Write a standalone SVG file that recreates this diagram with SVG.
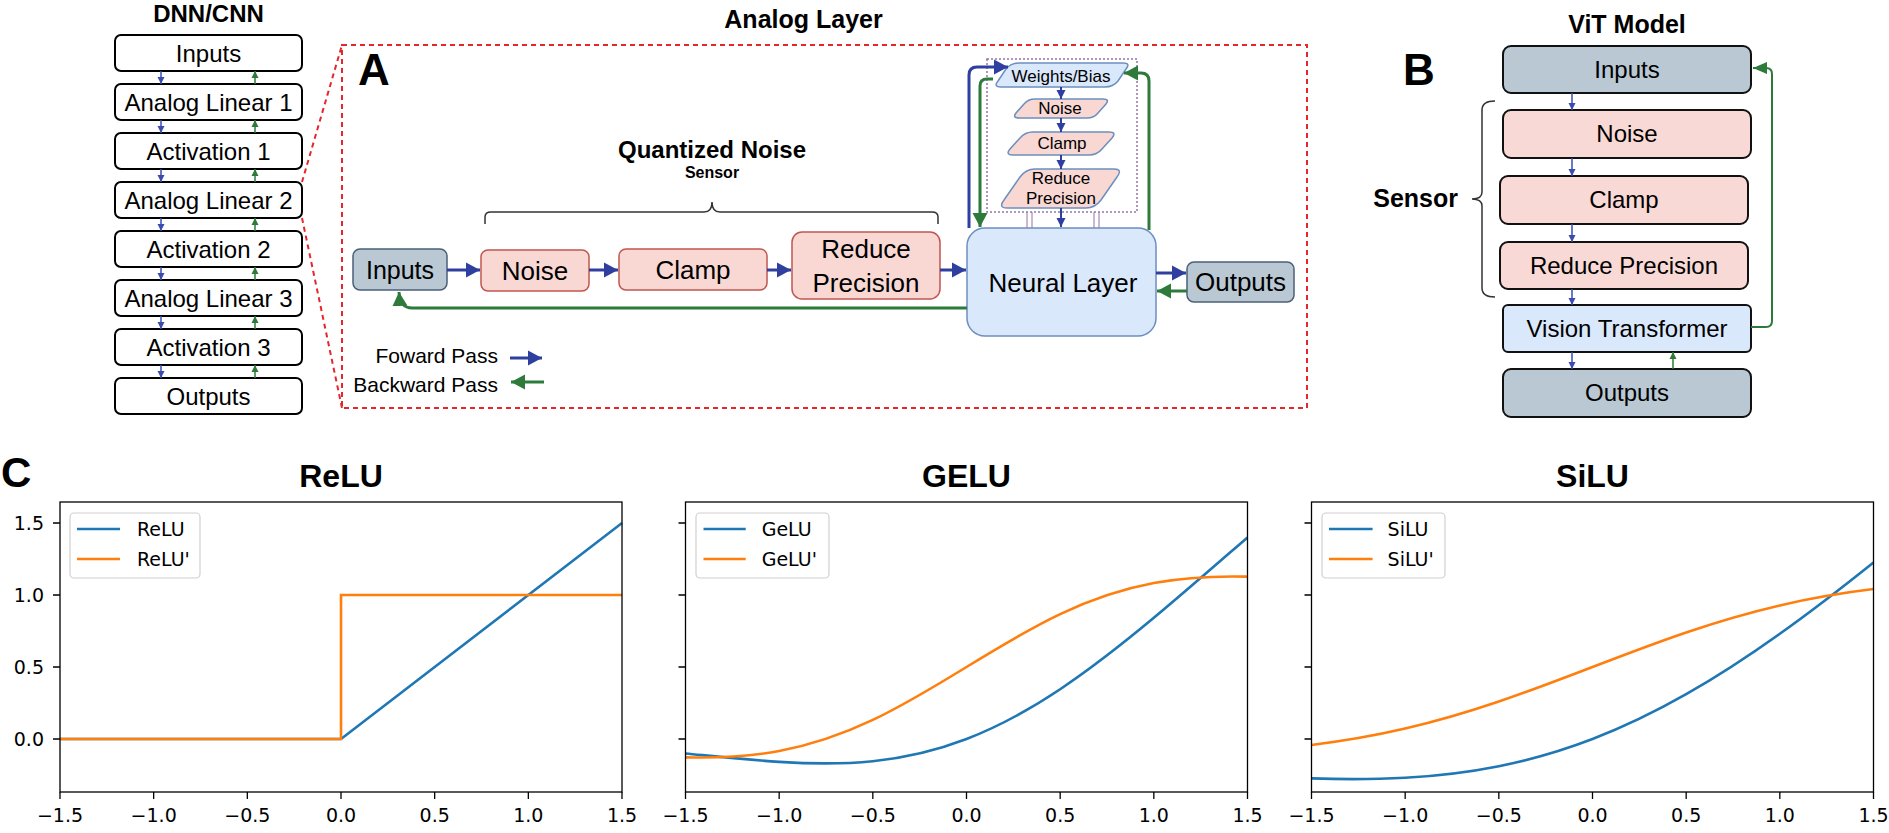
<svg xmlns="http://www.w3.org/2000/svg" width="1889" height="833" viewBox="0 0 1889 833">
<style>
.t{font-family:"Liberation Sans",Arial,Helvetica,sans-serif;fill:#000}
.b{font-weight:bold}
.c{text-anchor:middle}
.e{text-anchor:end}
.m{font-family:"DejaVu Sans",sans-serif;font-size:19px;fill:#000}
.dbox{fill:#fff;stroke:#000;stroke-width:2}
.grey{fill:#b9c8d3;stroke:#4a6078;stroke-width:1.5}
.pink{fill:#f9d8d4;stroke:#c0564f;stroke-width:1.5}
.blu{fill:#dae8fc;stroke:#6c8ebf;stroke-width:1.5}
.pstk{fill:#f9d8d4;stroke:#6c8ebf;stroke-width:1.5}
.bg{fill:#b9c8d3;stroke:#111;stroke-width:2}
.bp{fill:#f9d9d5;stroke:#111;stroke-width:2}
.bb{fill:#dae8fc;stroke:#111;stroke-width:2}
.fb{fill:none;stroke:#2e3f9f;stroke-width:3}
.fg{fill:none;stroke:#2d7a3a;stroke-width:3}
.sb{fill:none;stroke:#3a4cb0;stroke-width:1.5}
.sg{fill:none;stroke:#2d7a3a;stroke-width:1.5}
.wb{fill:none;stroke:#2e3f9f;stroke-width:2}
.red{fill:none;stroke:#e5262a;stroke-width:2;stroke-dasharray:5 4}
.brace{fill:none;stroke:#333;stroke-width:1.5}
.ax{fill:none;stroke:#000;stroke-width:1.3}
.tk{stroke:#000;stroke-width:1.3}
.lb{fill:none;stroke:#1f77b4;stroke-width:2.6}
.lo{fill:none;stroke:#ff7f0e;stroke-width:2.6}
.leg{fill:#fff;fill-opacity:0.8;stroke:#d0d0d0;stroke-width:1.2}
</style>
<defs>
<marker id="ab" markerUnits="userSpaceOnUse" markerWidth="15" markerHeight="16" refX="14" refY="8" orient="auto"><path d="M0,0.5 L14,8 L0,15.5 z" fill="#2e3f9f"/></marker>
<marker id="ag" markerUnits="userSpaceOnUse" markerWidth="15" markerHeight="16" refX="14" refY="8" orient="auto"><path d="M0,0.5 L14,8 L0,15.5 z" fill="#2d7a3a"/></marker>
<marker id="mb" markerUnits="userSpaceOnUse" markerWidth="10" markerHeight="10" refX="9" refY="5" orient="auto"><path d="M0,0.5 L9,5 L0,9.5 z" fill="#2e3f9f"/></marker>
<marker id="mg" markerUnits="userSpaceOnUse" markerWidth="15" markerHeight="13" refX="14" refY="6.5" orient="auto"><path d="M0,0.5 L14,6.5 L0,12.5 z" fill="#2d7a3a"/></marker>
<marker id="sbm" markerUnits="userSpaceOnUse" markerWidth="8" markerHeight="8" refX="7" refY="4" orient="auto"><path d="M0,0.5 L7,4 L0,7.5 z" fill="#3a4cb0"/></marker>
<marker id="sgm" markerUnits="userSpaceOnUse" markerWidth="8" markerHeight="8" refX="7" refY="4" orient="auto"><path d="M0,0.5 L7,4 L0,7.5 z" fill="#2d7a3a"/></marker>
</defs>
<rect width="1889" height="833" fill="#fff"/>

<!-- Titles and panel labels -->
<text x="208.5" y="22" class="t b c" font-size="24">DNN/CNN</text>
<text x="803.5" y="28" class="t b c" font-size="25">Analog Layer</text>
<text x="1627" y="33" class="t b c" font-size="25">ViT Model</text>
<text x="358" y="85" class="t b" font-size="44">A</text>
<text x="1403" y="85" class="t b" font-size="44">B</text>
<text x="1" y="487" class="t b" font-size="42">C</text>

<!-- DNN/CNN stack -->
<g id="dnn-inputs"><rect class="dbox" x="115" y="35" width="187" height="36" rx="6"/><text x="208.5" y="61.5" class="t c" font-size="24">Inputs</text></g>
<g id="dnn-linear1"><rect class="dbox" x="115" y="84" width="187" height="36" rx="6"/><text x="208.5" y="110.5" class="t c" font-size="24">Analog Linear 1</text></g>
<g id="dnn-act1"><rect class="dbox" x="115" y="133" width="187" height="36" rx="6"/><text x="208.5" y="159.5" class="t c" font-size="24">Activation 1</text></g>
<g id="dnn-linear2"><rect class="dbox" x="115" y="182" width="187" height="36" rx="6"/><text x="208.5" y="208.5" class="t c" font-size="24">Analog Linear 2</text></g>
<g id="dnn-act2"><rect class="dbox" x="115" y="231" width="187" height="36" rx="6"/><text x="208.5" y="257.5" class="t c" font-size="24">Activation 2</text></g>
<g id="dnn-linear3"><rect class="dbox" x="115" y="280" width="187" height="36" rx="6"/><text x="208.5" y="306.5" class="t c" font-size="24">Analog Linear 3</text></g>
<g id="dnn-act3"><rect class="dbox" x="115" y="329" width="187" height="36" rx="6"/><text x="208.5" y="355.5" class="t c" font-size="24">Activation 3</text></g>
<g id="dnn-outputs"><rect class="dbox" x="115" y="378" width="187" height="36" rx="6"/><text x="208.5" y="404.5" class="t c" font-size="24">Outputs</text></g>

<!-- Analog layer zoom box -->
<g id="analog-frame">
<rect class="red" x="342" y="45" width="965" height="363"/>
<path class="red" d="M302,182 L342,45 M302,218 L342,408"/>
</g>

<!-- Panel A nodes -->
<g id="a-inputs"><rect class="grey" x="353" y="249" width="94" height="41" rx="7"/><text x="400" y="279" class="t c" font-size="25">Inputs</text></g>
<g id="a-noise"><rect class="pink" x="481" y="250" width="108" height="41" rx="7"/><text x="535" y="280" class="t c" font-size="26">Noise</text></g>
<g id="a-clamp"><rect class="pink" x="619" y="249" width="148" height="41" rx="7"/><text x="693" y="279" class="t c" font-size="26">Clamp</text></g>
<g id="a-reduce"><rect class="pink" x="792" y="232" width="148" height="67" rx="10"/><text x="866" y="258" class="t c" font-size="26">Reduce</text><text x="866" y="292" class="t c" font-size="26">Precision</text></g>
<g id="a-brace"><path class="brace" d="M485,224 L485,217 Q485,212 491,212 L704,212 Q712,212 712,202 Q712,212 720,212 L932,212 Q938,212 938,217 L938,224"/>
<text x="712" y="158" class="t b c" font-size="24">Quantized Noise</text>
<text x="712" y="178" class="t b c" font-size="16">Sensor</text></g>
<g id="a-neural"><rect class="blu" x="967" y="228" width="189" height="108" rx="18"/><text x="1063" y="292" class="t c" font-size="26">Neural Layer</text></g>
<g id="a-outputs"><rect class="grey" x="1187" y="262" width="107" height="40" rx="7"/><text x="1240.5" y="291" class="t c" font-size="26">Outputs</text></g>
<g id="a-weight-stack">
<rect x="987" y="59" width="150" height="153" fill="none" stroke="#9673a6" stroke-width="1.5" stroke-dasharray="2 2"/>
<path d="M1027,212 V228 M1032,212 V228 M1094,212 V228 M1099,212 V228" stroke="#9673a6" stroke-width="1"/>
</g>
<g id="a-weights"><path class="blu" d="M1019,63 L1123,63 Q1131,63 1126,69 L1118,81 Q1113,87 1105,87 L1001,87 Q993,87 998,81 L1006,69 Q1011,63 1019,63 Z"/><text x="1061" y="82" class="t c" font-size="17">Weights/Bias</text></g>
<g id="a-wnoise"><path class="pstk" d="M1035,99 L1103,99 Q1110,99 1106,104 L1098,113 Q1094,118 1087,118 L1019,118 Q1012,118 1016,113 L1024,104 Q1028,99 1035,99 Z"/><text x="1060" y="114" class="t c" font-size="17">Noise</text></g>
<g id="a-wclamp"><path class="pstk" d="M1033,132 L1109,132 Q1117,132 1112,138 L1102,149 Q1097,155 1089,155 L1013,155 Q1005,155 1010,149 L1020,138 Q1025,132 1033,132 Z"/><text x="1062" y="149" class="t c" font-size="17">Clamp</text></g>
<g id="a-wreduce"><path class="pstk" d="M1035,169 L1114,169 Q1123,169 1117,177 L1101,200 Q1095,208 1086,208 L1007,208 Q998,208 1004,200 L1020,177 Q1026,169 1035,169 Z"/><text x="1061" y="184" class="t c" font-size="17">Reduce</text><text x="1061" y="204" class="t c" font-size="17">Precision</text></g>
<g id="a-legend">
<text x="498" y="363" class="t e" font-size="21">Foward Pass</text>
<text x="498" y="392" class="t e" font-size="21">Backward Pass</text>
</g>

<!-- Panel B nodes -->
<g id="b-inputs"><rect class="bg" x="1503" y="46" width="248" height="47" rx="8"/><text x="1627" y="78" class="t c" font-size="24">Inputs</text></g>
<g id="b-noise"><rect class="bp" x="1503" y="110" width="248" height="48" rx="8"/><text x="1627" y="142" class="t c" font-size="24">Noise</text></g>
<g id="b-clamp"><rect class="bp" x="1500" y="176" width="248" height="48" rx="8"/><text x="1624" y="208" class="t c" font-size="24">Clamp</text></g>
<g id="b-reduce"><rect class="bp" x="1500" y="242" width="248" height="47" rx="8"/><text x="1624" y="274" class="t c" font-size="24">Reduce Precision</text></g>
<g id="b-vit"><rect class="bb" x="1503" y="305" width="248" height="47" rx="5"/><text x="1627" y="337" class="t c" font-size="24">Vision Transformer</text></g>
<g id="b-outputs"><rect class="bg" x="1503" y="369" width="248" height="48" rx="8"/><text x="1627" y="401" class="t c" font-size="24">Outputs</text></g>
<g id="b-sensor"><path class="brace" d="M1495,101 Q1482,101 1482,110 L1482,192 Q1482,199 1472,199 Q1482,199 1482,206 L1482,288 Q1482,297 1495,297"/><text x="1458" y="207" class="t b e" font-size="25">Sensor</text></g>

<!-- Connectors -->
<g id="connectors">
<path class="sb" marker-end="url(#sbm)" d="M161,71 V84"/>
<path class="sb" marker-end="url(#sbm)" d="M161,120 V133"/>
<path class="sb" marker-end="url(#sbm)" d="M161,169 V182"/>
<path class="sb" marker-end="url(#sbm)" d="M161,218 V231"/>
<path class="sb" marker-end="url(#sbm)" d="M161,267 V280"/>
<path class="sb" marker-end="url(#sbm)" d="M161,316 V329"/>
<path class="sb" marker-end="url(#sbm)" d="M161,365 V378"/>
<path class="sg" marker-end="url(#sgm)" d="M255,84 V71"/>
<path class="sg" marker-end="url(#sgm)" d="M255,133 V120"/>
<path class="sg" marker-end="url(#sgm)" d="M255,182 V169"/>
<path class="sg" marker-end="url(#sgm)" d="M255,231 V218"/>
<path class="sg" marker-end="url(#sgm)" d="M255,280 V267"/>
<path class="sg" marker-end="url(#sgm)" d="M255,329 V316"/>
<path class="sg" marker-end="url(#sgm)" d="M255,378 V365"/>
<path class="fb" marker-end="url(#ab)" d="M447,270 H480"/>
<path class="fb" marker-end="url(#ab)" d="M589,270 H618"/>
<path class="fb" marker-end="url(#ab)" d="M767,270 H791"/>
<path class="fb" marker-end="url(#ab)" d="M940,270 H966"/>
<path class="fb" marker-end="url(#ab)" d="M1156,273 H1186"/>
<path class="fg" marker-end="url(#ag)" d="M1187,291 H1157"/>
<path class="fg" marker-end="url(#ag)" d="M967,308 L412,308 Q400,308 399,292"/>
<path class="fb" marker-end="url(#ab)" d="M969,228 L969,75 Q969,67 977,67 L1008,67"/>
<path class="fg" marker-end="url(#ag)" d="M993,79 L987,79 Q980,79 980,86 L980,227"/>
<path class="fg" marker-end="url(#ag)" d="M1149,230 L1149,81 Q1149,73 1141,73 L1124,73"/>
<path class="wb" marker-end="url(#mb)" d="M1061,87 V99"/>
<path class="wb" marker-end="url(#mb)" d="M1061,118 V132"/>
<path class="wb" marker-end="url(#mb)" d="M1061,155 V169"/>
<path class="wb" marker-end="url(#mb)" d="M1061,208 V227"/>
<path class="fb" marker-end="url(#ab)" d="M510,358 H542"/>
<path class="fg" marker-end="url(#ag)" d="M544,382 H511"/>
<path class="sb" marker-end="url(#sbm)" d="M1572,93 V110"/>
<path class="sb" marker-end="url(#sbm)" d="M1572,158 V176"/>
<path class="sb" marker-end="url(#sbm)" d="M1572,224 V242"/>
<path class="sb" marker-end="url(#sbm)" d="M1572,289 V305"/>
<path class="sb" marker-end="url(#sbm)" d="M1572,352 V369"/>
<path class="sg" marker-end="url(#sgm)" d="M1673,369 V352"/>
<path fill="none" stroke="#2d7a3a" stroke-width="2" marker-end="url(#mg)" d="M1751,327 L1766,327 Q1772,327 1772,321 L1772,74 Q1772,68 1766,68 L1753,68"/>
</g>

<!-- Plot ReLU -->
<g id="plot-relu">
<text x="341" y="487" class="t b c" font-size="32">ReLU</text>
<path class="tk" d="M53,523 H60 M53,595 H60 M53,667 H60 M53,739 H60 M60,792 V799 M153.67,792 V799 M247.33,792 V799 M341,792 V799 M434.67,792 V799 M528.33,792 V799 M622,792 V799"/>
<text x="44" y="530" class="m e">1.5</text>
<text x="44" y="602" class="m e">1.0</text>
<text x="44" y="674" class="m e">0.5</text>
<text x="44" y="746" class="m e">0.0</text>
<text x="60" y="822" class="m c">−1.5</text>
<text x="153.67" y="822" class="m c">−1.0</text>
<text x="247.33" y="822" class="m c">−0.5</text>
<text x="341" y="822" class="m c">0.0</text>
<text x="434.67" y="822" class="m c">0.5</text>
<text x="528.33" y="822" class="m c">1.0</text>
<text x="622" y="822" class="m c">1.5</text>
<path class="lb" d="M60,739 L341,739 L622,523"/>
<path class="lo" d="M60,739 L341,739 L341,595 L622,595"/>
<rect class="ax" x="60" y="502" width="562" height="290"/>
<rect class="leg" x="70" y="513" width="130" height="65" rx="4"/>
<path class="lb" d="M77,529 H120"/><text x="137" y="536" class="m">ReLU</text>
<path class="lo" d="M77,559 H120"/><text x="137" y="566" class="m">ReLU'</text>
</g>

<!-- Plot GELU -->
<g id="plot-gelu">
<text x="966.5" y="487" class="t b c" font-size="32">GELU</text>
<path class="tk" d="M678.5,523 H685.5 M678.5,595 H685.5 M678.5,667 H685.5 M678.5,739 H685.5 M685.5,792 V799 M779.17,792 V799 M872.83,792 V799 M966.5,792 V799 M1060.17,792 V799 M1153.83,792 V799 M1247.5,792 V799"/>
<text x="685.5" y="822" class="m c">−1.5</text>
<text x="779.17" y="822" class="m c">−1.0</text>
<text x="872.83" y="822" class="m c">−0.5</text>
<text x="966.5" y="822" class="m c">0.0</text>
<text x="1060.17" y="822" class="m c">0.5</text>
<text x="1153.83" y="822" class="m c">1.0</text>
<text x="1247.5" y="822" class="m c">1.5</text>
<path class="lb" d="M685.5,753.43 C716.72,756.49 747.95,759.85 779.17,761.85 C810.39,763.85 841.61,764.39 872.83,761.21 C904.05,758.03 935.28,751 966.5,739 C997.72,727 1028.95,710.03 1060.17,689.21 C1091.39,668.39 1122.61,643.85 1153.83,617.85 C1185.05,591.85 1216.28,564.49 1247.5,537.43"/>
<path class="lo" d="M685.5,757.36 C716.72,758.14 747.95,756.81 779.17,751 C810.39,745.19 841.61,734.71 872.83,719.92 C904.05,705.13 935.28,686.15 966.5,667 C997.72,647.85 1028.95,628.87 1060.17,614.08 C1091.39,599.29 1122.61,588.81 1153.83,583 C1185.05,577.19 1216.28,575.86 1247.5,576.64"/>
<rect class="ax" x="685.5" y="502" width="562" height="290"/>
<rect class="leg" x="696" y="513" width="133" height="65" rx="4"/>
<path class="lb" d="M703.5,529 H745.7"/><text x="761.7" y="536" class="m">GeLU</text>
<path class="lo" d="M703.5,559 H745.7"/><text x="761.7" y="566" class="m">GeLU'</text>
</g>

<!-- Plot SiLU -->
<g id="plot-silu">
<text x="1592.5" y="487" class="t b c" font-size="32">SiLU</text>
<path class="tk" d="M1304.5,523 H1311.5 M1304.5,595 H1311.5 M1304.5,667 H1311.5 M1304.5,739 H1311.5 M1311.5,792 V799 M1405.17,792 V799 M1498.83,792 V799 M1592.5,792 V799 M1686.17,792 V799 M1779.83,792 V799 M1873.5,792 V799"/>
<text x="1311.5" y="822" class="m c">−1.5</text>
<text x="1405.17" y="822" class="m c">−1.0</text>
<text x="1498.83" y="822" class="m c">−0.5</text>
<text x="1592.5" y="822" class="m c">0.0</text>
<text x="1686.17" y="822" class="m c">0.5</text>
<text x="1779.83" y="822" class="m c">1.0</text>
<text x="1873.5" y="822" class="m c">1.5</text>
<path class="lb" d="M1311.5,778.4 C1342.72,779.39 1373.95,779.47 1405.17,777.73 C1436.39,775.99 1467.61,772.42 1498.83,766.18 C1530.05,759.94 1561.28,751 1592.5,739 C1623.72,727 1654.95,711.94 1686.17,694.18 C1717.39,676.42 1748.61,655.99 1779.83,633.73 C1811.05,611.47 1842.28,587.39 1873.5,562.4"/>
<path class="lo" d="M1311.5,744.95 C1342.72,741.2 1373.95,735.84 1405.17,728.58 C1436.39,721.32 1467.61,712.14 1498.83,701.55 C1530.05,690.96 1561.28,679 1592.5,667 C1623.72,655 1654.95,643.04 1686.17,632.45 C1717.39,621.86 1748.61,612.68 1779.83,605.42 C1811.05,598.16 1842.28,592.8 1873.5,589.05"/>
<rect class="ax" x="1311.5" y="502" width="562" height="290"/>
<rect class="leg" x="1322" y="513" width="123" height="65" rx="4"/>
<path class="lb" d="M1329,529 H1372.6"/><text x="1387.6" y="536" class="m">SiLU</text>
<path class="lo" d="M1329,559 H1372.6"/><text x="1387.6" y="566" class="m">SiLU'</text>
</g>
</svg>
